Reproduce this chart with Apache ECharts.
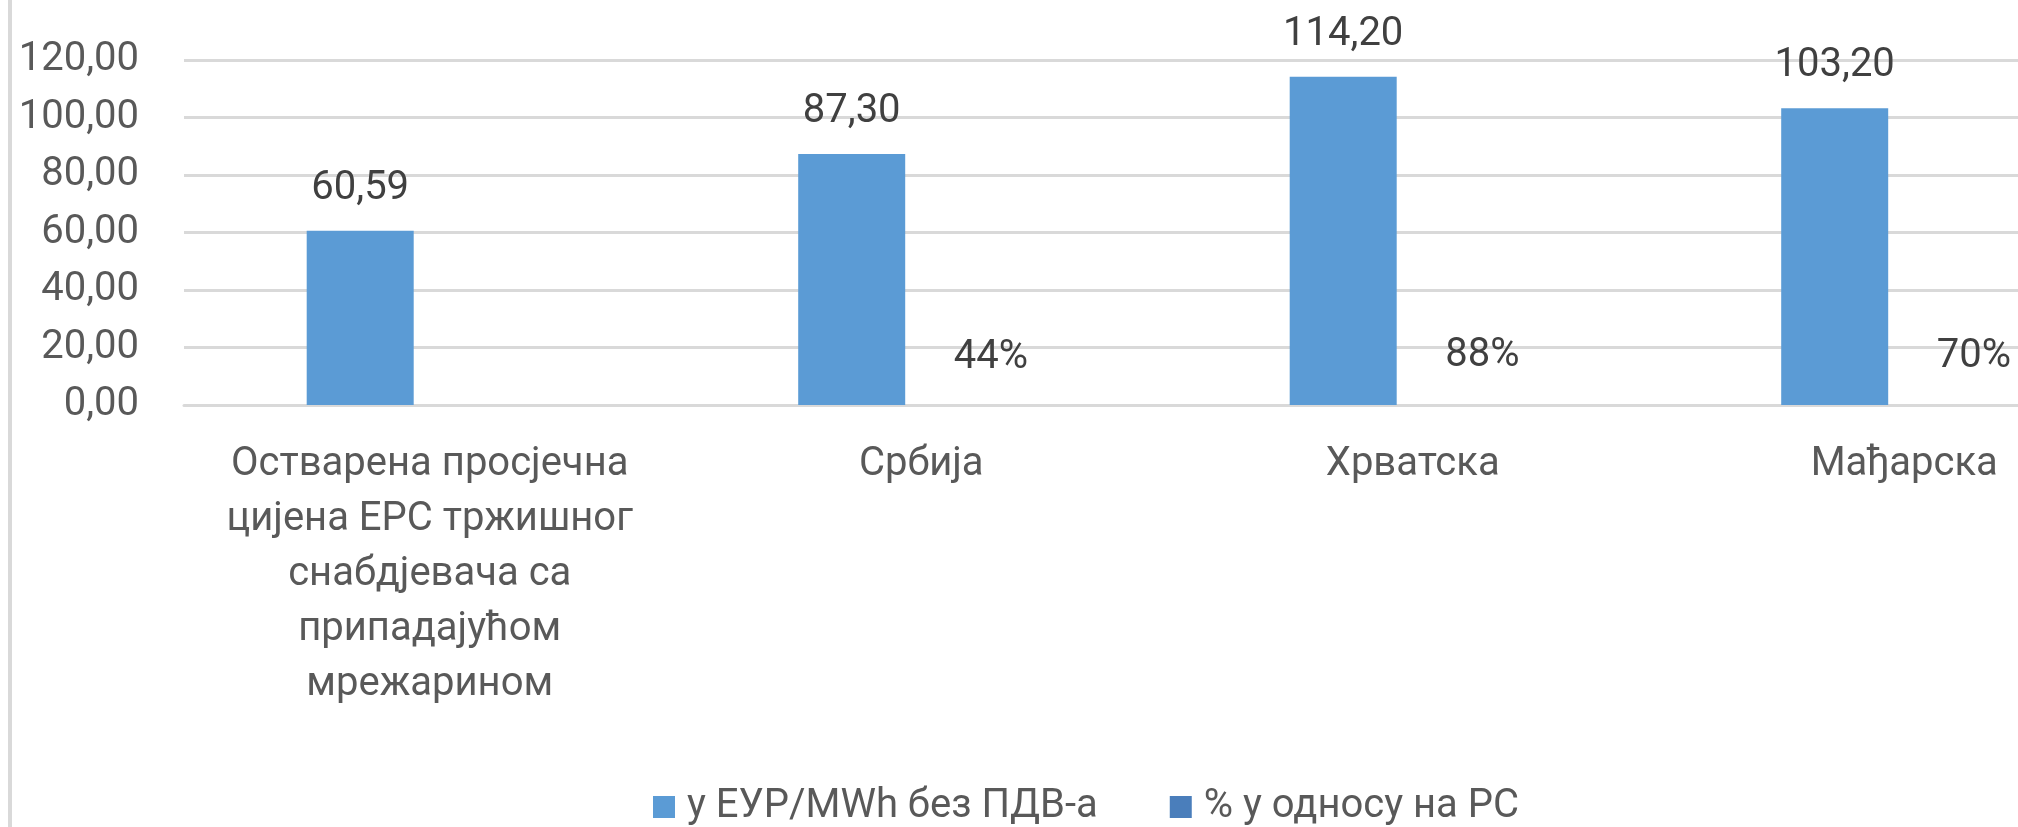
<!DOCTYPE html>
<html>
<head>
<meta charset="utf-8">
<title>Цијене</title>
<script src="https://cdn.jsdelivr.net/npm/echarts@6/dist/echarts.min.js"></script>
<style>
html, body {margin: 0; padding: 0; background: #fff;}
#chart {width: 2018px; height: 827px;}
.frame-left {position: absolute; left: 8px; top: 0; width: 4px; height: 827px; background: #d9d9d9;}
</style>
</head>
<body>
<div class="frame-left"></div>
<div id="chart"></div>
<script>
// podaci
var categories = [
    'Остварена просјечна\nцијена ЕРС тржишног\nснабдјевача са\nприпадајућом\nмрежарином',
    'Србија',
    'Хрватска',
    'Мађарска'
];
var seriesNames = ['у ЕУР/MWh без ПДВ-а', '% у односу на РС'];
var priceValues = [60.59, 87.30, 114.20, 103.20];
var shareValues = [null, 0.44, 0.88, 0.70];
var yTicks = [0, 20, 40, 60, 80, 100, 120];

var fontFam = 'Roboto, "Open Sans", sans-serif';

function fmtComma(v) {
    return Number(v).toFixed(2).replace('.', ',');
}

var myChart = echarts.init(document.getElementById('chart'));

var option = {
    animation: false,
    textStyle: {fontFamily: fontFam},
    legend: {
        data: [
            {name: seriesNames[0]},
            {name: seriesNames[1], itemStyle: {color: '#4a7ebb'}}
        ],
        left: 653,
        top: 787,
        padding: 0,
        itemWidth: 22,
        itemHeight: 22,
        itemGap: 72,
        icon: 'rect',
        textStyle: {fontSize: 40, color: '#595959', fontFamily: fontFam, padding: [0, 0, 0, 7]}
    },
    // sirina ide preko desne ivice, kao u originalu (isjecena slika)
    grid: {left: 184, top: 60, right: -132, height: 345, outerBoundsMode: 'none'},
    xAxis: {
        type: 'category',
        data: categories,
        axisLine: {lineStyle: {color: '#d9d9d9', width: 3}},
        axisTick: {show: false},
        axisLabel: {
            interval: 0,
            margin: 32,
            fontSize: 40,
            lineHeight: 55,
            color: '#595959',
            fontFamily: fontFam
        }
    },
    yAxis: {
        type: 'value',
        min: yTicks[0],
        max: yTicks[yTicks.length - 1],
        interval: yTicks[1] - yTicks[0],
        axisLine: {show: false},
        axisTick: {show: false},
        splitLine: {lineStyle: {color: '#d9d9d9', width: 3}},
        axisLabel: {
            margin: 45,
            fontSize: 40,
            color: '#595959',
            fontFamily: fontFam,
            formatter: fmtComma
        }
    },
    series: [{
        name: seriesNames[0],
        type: 'bar',
        data: priceValues,
        barWidth: 107,
        barGap: '30%',
        itemStyle: {color: '#5b9bd5'},
        label: {
            show: true,
            position: 'top',
            distance: 22,
            fontSize: 40,
            color: '#404040',
            fontFamily: fontFam,
            formatter: function (p) { return fmtComma(p.value); }
        }
    }, {
        // procenti su sitni na ovoj skali pa se stubac ne vidi, samo oznaka
        name: seriesNames[1],
        type: 'bar',
        data: shareValues,
        barWidth: 107,
        barGap: '30%',
        itemStyle: {color: 'rgba(74,126,187,0)'},
        label: {
            show: true,
            position: 'top',
            distance: 26,
            fontSize: 40,
            color: '#404040',
            fontFamily: fontFam,
            formatter: function (p) { return Math.round(p.value * 100) + '%'; }
        }
    }]
};
myChart.setOption(option);
</script>
</body>
</html>
